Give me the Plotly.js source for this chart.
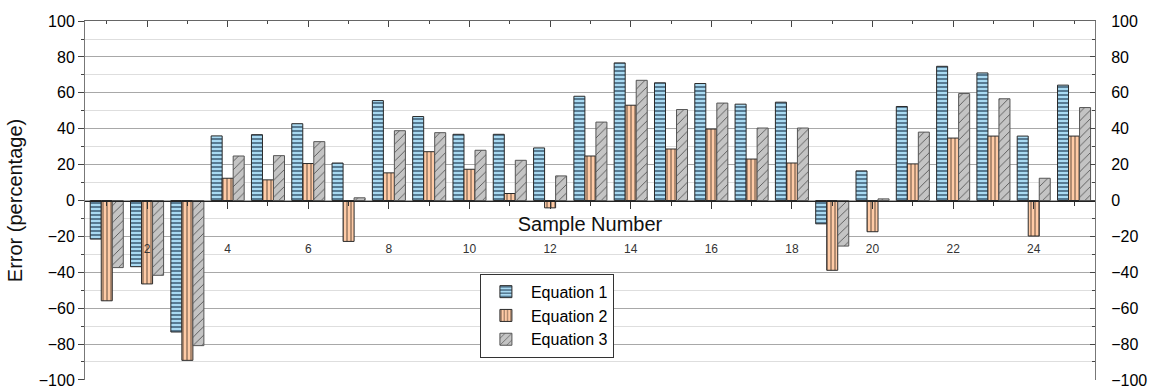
<!DOCTYPE html>
<html>
<head>
<meta charset="utf-8">
<script src="https://cdn.plot.ly/plotly-3.0.1.min.js"></script>
<style>html,body{margin:0;padding:0;background:#fff;}#chart{width:1154px;height:390px;}</style>
</head>
<body>
<div id="chart"></div>
<script>
const samples = [1,2,3,4,5,6,7,8,9,10,11,12,13,14,15,16,17,18,19,20,21,22,23,24,25];
const equation1 = [-21.5,-36.9,-73.3,36,36.7,42.8,20.9,55.7,46.8,36.9,36.9,29.3,58.1,76.7,65.6,65.2,53.7,54.8,-13,16.5,52.4,74.8,71.1,35.9,64.3];
const equation2 = [-55.9,-46.5,-89.1,12.4,11.5,20.6,-22.8,15.4,27.2,17.4,3.9,-4.1,24.8,53.1,28.7,39.8,23.1,20.9,-38.9,-17.4,20.4,34.8,35.9,-19.8,35.9];
const equation3 = [-37.4,-41.7,-80.9,24.8,25,32.8,1.5,38.9,37.8,28,22.4,13.7,43.7,67,50.7,54.3,40.4,40.4,-25.4,0.9,38.1,59.6,56.7,12.4,51.8];
const seriesNames = ['Equation 1','Equation 2','Equation 3'];
const xTickVals = [2,4,6,8,10,12,14,16,18,20,22,24];
const xTickText = ['2','4','6','8','10','12','14','16','18','20','22','24'];
const yTickVals = [-100,-80,-60,-40,-20,0,20,40,60,80,100];

const FONT = 'Liberation Sans, Arial, sans-serif';
const xr = [0.46, 25.52];
const yr = [-100.05, 100.05];

const traces = [
  {type:'bar', name:seriesNames[0], x:samples, y:equation1,
   marker:{color:'#a9daf2', line:{color:'#2a2a2a', width:1},
     pattern:{shape:'-', fgcolor:'#1e3a52', bgcolor:'#a9daf2', size:4, solidity:0.3}}},
  {type:'bar', name:seriesNames[1], x:samples, y:equation2,
   marker:{color:'#ffcba6', line:{color:'#2a2a2a', width:1},
     pattern:{shape:'|', fgcolor:'#3a2a20', bgcolor:'#ffcba6', size:4, solidity:0.2}}},
  {type:'bar', name:seriesNames[2], x:samples, y:equation3,
   marker:{color:'#c4c4c4', line:{color:'#555', width:1},
     pattern:{shape:'/', fgcolor:'#555', bgcolor:'#c4c4c4', size:6, solidity:0.15}}},
  {type:'scatter', mode:'markers', x:samples, y:equation1, xaxis:'x2', yaxis:'y',
   marker:{opacity:0}, showlegend:false, hoverinfo:'skip'},
  {type:'scatter', mode:'markers', x:samples, y:equation1, xaxis:'x3', yaxis:'y2',
   marker:{opacity:0}, showlegend:false, hoverinfo:'skip'}
];

const layout = {
  width:1154, height:390,
  margin:{l:85, r:59, t:21, b:10},
  paper_bgcolor:'#fff', plot_bgcolor:'#fff',
  barmode:'group', bargap:0.18, bargroupgap:0,
  showlegend:true,
  legend:{x:0.391, y:0.296, xanchor:'left', yanchor:'top', bgcolor:'#fff',
    bordercolor:'#333', borderwidth:1, font:{family:FONT, size:16, color:'#000'},
    tracegroupgap:0, itemwidth:40},
  font:{family:FONT, color:'#000'},
  xaxis:{range:xr, anchor:'free', position:0.39, showline:false, ticks:'',
    tickvals:xTickVals, ticktext:xTickText, tickfont:{family:FONT, size:12, color:'#333'},
    showgrid:false, zeroline:false, fixedrange:true},
  xaxis2:{range:xr, overlaying:'x', anchor:'free', position:0.5, showline:true,
    linecolor:'#222', linewidth:1, ticks:'outside', ticklen:7, tickcolor:'#333',
    tickmode:'linear', tick0:0, dtick:2, showticklabels:false, showgrid:false, zeroline:false,
    minor:{ticks:'outside', ticklen:4, tickcolor:'#333', dtick:1, tick0:0, showgrid:false},
    title:{text:'Sample Number', font:{family:FONT, size:20, color:'#111'}, standoff:9}},
  xaxis3:{range:xr, overlaying:'x', side:'top', anchor:'y2', showline:true,
    linecolor:'#666', linewidth:1, ticks:'inside', ticklen:6, tickcolor:'#444',
    tickmode:'linear', tick0:0, dtick:2, showticklabels:false, showgrid:false, zeroline:false,
    minor:{ticks:'inside', ticklen:3, tickcolor:'#444', dtick:1, tick0:0, showgrid:false}},
  yaxis:{range:yr, tickvals:yTickVals, showline:true, linecolor:'#777', linewidth:1,
    ticks:'outside', ticklen:6, tickcolor:'#444', tickfont:{family:FONT, size:16, color:'#000'},
    ticklabeloverflow:'allow',
    showgrid:true, gridcolor:'#a8a8a8', gridwidth:1, zeroline:false,
    minor:{dtick:10, tick0:0, ticks:'outside', ticklen:3, tickcolor:'#444', showgrid:true, gridcolor:'#dedede'},
    title:{text:'Error (percentage)', font:{family:FONT, size:20, color:'#111'}, standoff:10}},
  yaxis2:{range:yr, overlaying:'y', side:'right', anchor:'x3', tickvals:yTickVals,
    showline:true, linecolor:'#777', linewidth:1, ticks:'inside', ticklen:5, tickcolor:'#444',
    ticklabelstandoff:12, ticklabeloverflow:'allow', tickfont:{family:FONT, size:16, color:'#000'},
    showgrid:false, zeroline:false,
    minor:{dtick:10, tick0:0, ticks:'inside', ticklen:3, tickcolor:'#444', showgrid:false}}
};

Plotly.newPlot('chart', traces, layout, {staticPlot:true, displayModeBar:false});
</script>
</body>
</html>
